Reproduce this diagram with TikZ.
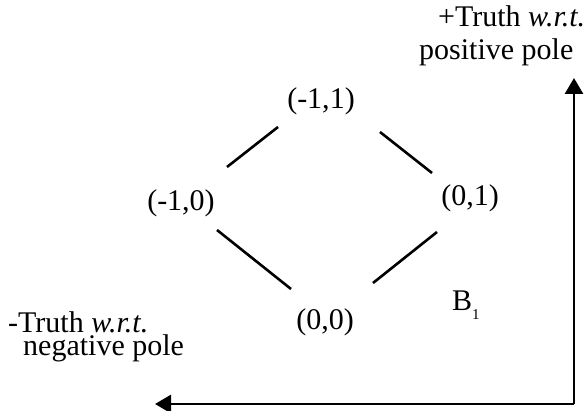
\documentclass[tikz,border=0pt]{standalone}
\usepackage{fontspec}
\setmainfont{Liberation Serif}
\usetikzlibrary{arrows.meta}
\begin{document}
\begin{tikzpicture}[x=1pt,y=-1pt,
  lbl/.style={font=\fontsize{30}{30}\selectfont, inner sep=0pt},
  edge/.style={line width=2.6pt},
  axis/.style={line width=2.8pt, -{Triangle[length=16pt,width=18pt]}}]
\useasboundingbox (0,0) rectangle (588,411);
\node[lbl] (a) at (321,101) {(-1,1)};
\node[lbl] (b) at (181,203) {(-1,0)};
\node[lbl] (c) at (470,198) {(0,1)};
\node[lbl] (d) at (325,322) {(0,0)};
\node[lbl, anchor=base west] (bl) at (452,310) {B\raisebox{-0.3em}{\fontsize{15}{15}\selectfont 1}};
\coordinate (e1s) at (227,167); \coordinate (e1e) at (278,127);
\coordinate (e2s) at (380,132); \coordinate (e2e) at (432,173);
\coordinate (e3s) at (217,230); \coordinate (e3e) at (291,289);
\coordinate (e4s) at (437,232); \coordinate (e4e) at (373,283);
\draw[edge] (e1s) -- (e1e);
\draw[edge] (e2s) -- (e2e);
\draw[edge] (e3s) -- (e3e);
\draw[edge] (e4s) -- (e4e);
\coordinate (corner) at (574,404);
\coordinate (top) at (574,78);
\coordinate (left) at (155,404);
\draw[axis] (corner) -- (top);
\draw[axis] (corner) -- (left);
\node[lbl, anchor=base west] (pt) at (438,27) {+Truth \textit{w.r.t.}};
\node[lbl, anchor=base west] (pp) at (419,60) {positive pole};
\node[lbl, anchor=base west] (nt) at (8,332) {-Truth \textit{w.r.t.}};
\node[lbl, anchor=base west] (np) at (23,355) {negative pole};
\end{tikzpicture}
\end{document}
